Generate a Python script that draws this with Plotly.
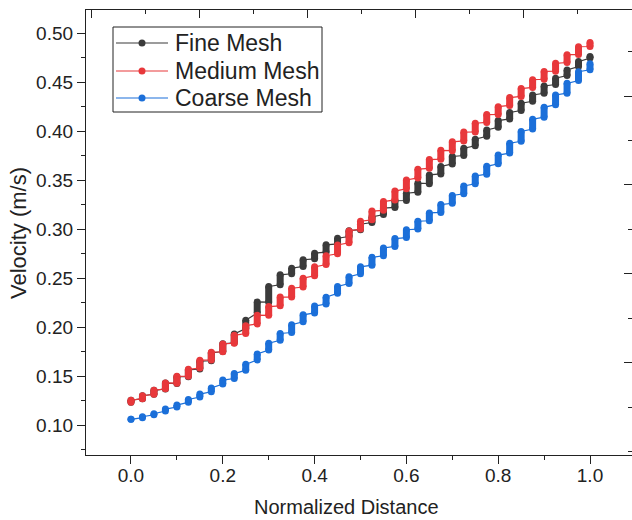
import plotly.graph_objects as go

# Normalized distance of each sampling station along the probe line
distance = [0.000, 0.025, 0.050, 0.075, 0.100, 0.125, 0.150, 0.175, 0.200, 0.225,
            0.250, 0.275, 0.300, 0.325, 0.350, 0.375, 0.400, 0.425, 0.450, 0.475,
            0.500, 0.525, 0.550, 0.575, 0.600, 0.625, 0.650, 0.675, 0.700, 0.725,
            0.750, 0.775, 0.800, 0.825, 0.850, 0.875, 0.900, 0.925, 0.950, 0.975,
            1.000]

# Velocity range (m/s) recorded at each station: lowest and highest sample
fine_lo = [0.1233, 0.1269, 0.1314, 0.1368, 0.1423, 0.1493, 0.1572, 0.1656, 0.1750, 0.1840,
           0.1985, 0.2145, 0.2255, 0.2432, 0.2545, 0.2620, 0.2697, 0.2765, 0.2850, 0.2925,
           0.2995, 0.3068, 0.3150, 0.3222, 0.3293, 0.3378, 0.3465, 0.3564, 0.3666, 0.3752,
           0.3852, 0.3949, 0.4041, 0.4126, 0.4211, 0.4306, 0.4388, 0.4477, 0.4568, 0.4660,
           0.4748]
fine_hi = [0.1253, 0.1299, 0.1354, 0.1428, 0.1493, 0.1563, 0.1652, 0.1736, 0.1830, 0.1930,
           0.2070, 0.2257, 0.2415, 0.2534, 0.2602, 0.2688, 0.2755, 0.2840, 0.2908, 0.2985,
           0.3050, 0.3125, 0.3215, 0.3290, 0.3367, 0.3469, 0.3554, 0.3640, 0.3742, 0.3827,
           0.3918, 0.4013, 0.4109, 0.4191, 0.4286, 0.4370, 0.4462, 0.4541, 0.4626, 0.4711,
           0.4762]

medium_lo = [0.1233, 0.1269, 0.1314, 0.1370, 0.1427, 0.1499, 0.1582, 0.1664, 0.1748, 0.1836,
             0.1935, 0.2032, 0.2120, 0.2217, 0.2307, 0.2409, 0.2525, 0.2639, 0.2749, 0.2861,
             0.3001, 0.3095, 0.3192, 0.3299, 0.3412, 0.3523, 0.3621, 0.3715, 0.3802, 0.3901,
             0.3992, 0.4090, 0.4171, 0.4264, 0.4356, 0.4447, 0.4531, 0.4613, 0.4702, 0.4783,
             0.4865]
medium_hi = [0.1253, 0.1299, 0.1354, 0.1430, 0.1497, 0.1569, 0.1662, 0.1744, 0.1828, 0.1916,
             0.2015, 0.2122, 0.2210, 0.2307, 0.2397, 0.2499, 0.2615, 0.2729, 0.2839, 0.2981,
             0.3081, 0.3185, 0.3282, 0.3389, 0.3502, 0.3613, 0.3711, 0.3805, 0.3892, 0.3991,
             0.4082, 0.4170, 0.4251, 0.4344, 0.4436, 0.4527, 0.4611, 0.4693, 0.4782, 0.4863,
             0.4905]

coarse_lo = [0.1058, 0.1075, 0.1105, 0.1143, 0.1184, 0.1232, 0.1286, 0.1339, 0.1419, 0.1475,
             0.1560, 0.1665, 0.1765, 0.1865, 0.1945, 0.2055, 0.2145, 0.2235, 0.2345, 0.2445,
             0.2545, 0.2632, 0.2728, 0.2824, 0.2914, 0.3001, 0.3086, 0.3171, 0.3264, 0.3361,
             0.3463, 0.3562, 0.3667, 0.3777, 0.3897, 0.4023, 0.4144, 0.4271, 0.4389, 0.4518,
             0.4628]
coarse_hi = [0.1058, 0.1085, 0.1115, 0.1163, 0.1204, 0.1262, 0.1316, 0.1379, 0.1459, 0.1525,
             0.1620, 0.1725, 0.1835, 0.1935, 0.2025, 0.2125, 0.2215, 0.2305, 0.2415, 0.2515,
             0.2615, 0.2712, 0.2808, 0.2904, 0.2994, 0.3081, 0.3166, 0.3251, 0.3344, 0.3441,
             0.3543, 0.3642, 0.3757, 0.3877, 0.3997, 0.4123, 0.4244, 0.4371, 0.4489, 0.4608,
             0.4688]

series = [
    ("Fine Mesh", fine_lo, fine_hi, "#3b3b3b"),
    ("Medium Mesh", medium_lo, medium_hi, "#e8383b"),
    ("Coarse Mesh", coarse_lo, coarse_hi, "#1b6fd9"),
]

INK = "#222222"
FONT = "Arial, Liberation Sans, Arimo, sans-serif"


def path_points(xs, lo, hi):
    """Ordered samples: rise through each station, then step to the next."""
    px, py = [], []
    for x, a, b in zip(xs, lo, hi):
        px += [x, x]
        py += [a, b]
    return px, py


def station_bars(xs, lo, hi):
    """Vertical segments covering the samples stacked at one station."""
    px, py = [], []
    for x, a, b in zip(xs, lo, hi):
        px += [x, x, None]
        py += [a, b, None]
    return px, py


fig = go.Figure()
for name, lo, hi, color in series:
    px, py = path_points(distance, lo, hi)
    fig.add_trace(go.Scatter(
        x=px, y=py, mode="lines+markers", name=name,
        line=dict(color=color, width=1.2),
        marker=dict(color=color, size=7, line=dict(width=0)),
        showlegend=False, hoverinfo="skip",
    ))
    bx, by = station_bars(distance, lo, hi)
    fig.add_trace(go.Scatter(
        x=bx, y=by, mode="lines", line=dict(color=color, width=7),
        showlegend=False, hoverinfo="skip", connectgaps=False,
    ))

# carrier for the mirrored top / right frame axes
fig.add_trace(go.Scatter(x=[None], y=[None], xaxis="x2", yaxis="y2",
                         showlegend=False, hoverinfo="skip"))

W, H = 632, 520
L, R, T, B = 86, 0, 10, 65
PW, PH = W - L - R, H - T - B


def paper_x(px):
    return (px - L) / PW


def paper_y(py):
    return (H - B - py) / PH


axis_common = dict(
    showgrid=False, zeroline=False, showline=True, linecolor=INK, linewidth=1.3,
    tickcolor=INK, tickwidth=1.3, ticklen=8, ticks="outside",
    tickfont=dict(family=FONT, size=19, color=INK),
)

fig.update_layout(
    width=W, height=H,
    margin=dict(l=L, r=R, t=T, b=B),
    plot_bgcolor="white", paper_bgcolor="white",
    showlegend=False,
    font=dict(family=FONT, color=INK),
    xaxis=dict(
        range=[-0.098, 1.0915],
        tickvals=[0.0, 0.2, 0.4, 0.6, 0.8, 1.0],
        ticktext=["0.0", "0.2", "0.4", "0.6", "0.8", "1.0"],
        ticklabelstandoff=-5,
        minor=dict(tickvals=[0.1, 0.3, 0.5, 0.7, 0.9], ticklen=4, ticks="outside",
                   tickcolor=INK, tickwidth=1.3),
        **axis_common,
    ),
    yaxis=dict(
        range=[0.0694, 0.5238],
        tickvals=[0.10, 0.15, 0.20, 0.25, 0.30, 0.35, 0.40, 0.45, 0.50],
        ticktext=["0.10", "0.15", "0.20", "0.25", "0.30", "0.35", "0.40", "0.45", "0.50"],
        minor=dict(tickvals=[0.075, 0.125, 0.175, 0.225, 0.275, 0.325, 0.375, 0.425, 0.475],
                   ticklen=4, ticks="outside", tickcolor=INK, tickwidth=1.3),
        **axis_common,
    ),
    xaxis2=dict(
        overlaying="x", side="top", anchor="y2", range=[-7.11, 3.0],
        showgrid=False, zeroline=False, showline=True, linecolor=INK, linewidth=1.3,
        tickvals=[-7, -5, -3, -1, 1], ticks="inside", ticklen=8, tickcolor=INK, tickwidth=1.3,
        minor=dict(dtick=1, tick0=0, ticks="inside", ticklen=4, tickcolor=INK, tickwidth=1.3),
        showticklabels=False,
    ),
    yaxis2=dict(
        overlaying="y", side="right", anchor="x2", range=[-1.081, 8.94],
        showgrid=False, zeroline=False, showline=False,
        tickvals=[1, 3, 5, 7], ticks="inside", ticklen=8, tickcolor=INK, tickwidth=1.3,
        minor=dict(dtick=1, tick0=0, ticks="inside", ticklen=4, tickcolor=INK, tickwidth=1.3),
        showticklabels=False,
    ),
)

annotations = [
    dict(text="Normalized Distance", xref="paper", yref="paper",
         x=paper_x(346), y=paper_y(507), xanchor="center", yanchor="middle",
         showarrow=False, font=dict(family=FONT, size=20, color=INK)),
    dict(text="Velocity (m/s)", xref="paper", yref="paper", textangle=-90,
         x=paper_x(19), y=paper_y(233), xanchor="center", yanchor="middle",
         showarrow=False, font=dict(family=FONT, size=22, color=INK)),
]

# legend box with line + symbol samples
shapes = [dict(type="rect", xref="paper", yref="paper",
               x0=paper_x(113), x1=paper_x(322), y0=paper_y(112), y1=paper_y(27),
               line=dict(color=INK, width=1), fillcolor="white", layer="above")]
row_y = [43, 71, 98]
for (name, _lo, _hi, color), ry in zip(series, row_y):
    shapes.append(dict(type="line", xref="paper", yref="paper",
                       x0=paper_x(116), x1=paper_x(168), y0=paper_y(ry), y1=paper_y(ry),
                       line=dict(color=color, width=1.2), layer="above"))
    shapes.append(dict(type="circle", xref="paper", yref="paper",
                       xsizemode="pixel", ysizemode="pixel",
                       xanchor=paper_x(142), yanchor=paper_y(ry),
                       x0=-3.5, x1=3.5, y0=-3.5, y1=3.5,
                       fillcolor=color, line=dict(width=0), layer="above"))
    annotations.append(dict(text=name, xref="paper", yref="paper",
                            x=paper_x(173), y=paper_y(ry), xanchor="left", yanchor="middle",
                            showarrow=False, font=dict(family=FONT, size=23, color=INK)))

fig.update_layout(shapes=shapes, annotations=annotations)

fig.write_html("out.html")
